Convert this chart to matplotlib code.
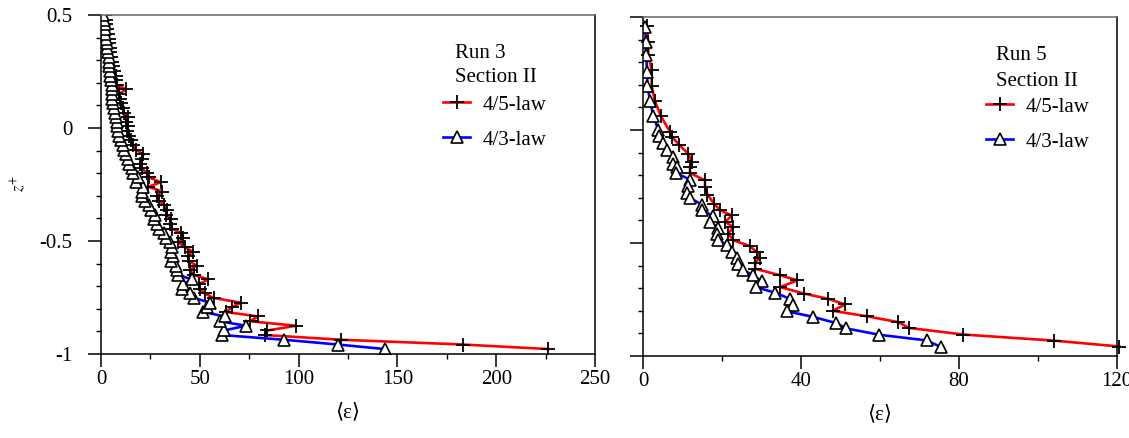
import matplotlib
matplotlib.use("Agg")
import matplotlib.pyplot as plt
from matplotlib.lines import Line2D
from matplotlib.ticker import MultipleLocator

# Run 3, Section II (left panel)
run3_z = [-0.978, -0.958, -0.937, -0.916, -0.896, -0.875, -0.855, -0.834, -0.814, -0.793,
          -0.773, -0.752, -0.732, -0.711, -0.691, -0.670, -0.650, -0.629, -0.609, -0.588,
          -0.568, -0.547, -0.527, -0.506, -0.486, -0.465, -0.445, -0.424, -0.404, -0.383,
          -0.363, -0.342, -0.322, -0.301, -0.281, -0.260, -0.240, -0.219, -0.199, -0.178,
          -0.158, -0.137, -0.117, -0.096, -0.076, -0.055, -0.035, -0.014, 0.007, 0.027,
          0.048, 0.068, 0.089, 0.109, 0.130, 0.150, 0.171, 0.191, 0.212, 0.232,
          0.253, 0.273, 0.294, 0.314, 0.335, 0.355, 0.376, 0.396, 0.417, 0.437,
          0.458, 0.478, 0.498]
run3_law45 = [226, 183, 121.7, 82.8, 84.2, 98.6, 75.4, 79.5, 63.1, 66.3,
              70.7, 57.0, 52.5, 50.1, 49.6, 54.3, 47.0, 44.8, 48.4, 44.3,
              44.0, 46.4, 42.5, 39.0, 41.5, 40.5, 35.9, 34.7, 35.5, 32.9,
              33.5, 32.0, 29.4, 28.5, 31.0, 24.0, 30.2, 24.5, 23.2, 20.5,
              19.7, 20.5, 21.5, 17.5, 16.2, 15.0, 14.4, 13.0, 13.6, 12.5,
              13.6, 11.5, 10.9, 10.0, 9.5, 9.1, 12.7, 8.0, 7.8, 7.4,
              6.8, 6.0, 5.6, 5.2, 4.8, 4.6, 4.2, 3.9, 3.5, 3.0,
              2.6, 2.3, 2.1]
run3_law43 = [143.5, 119.7, 92.7, 61.0, 62.2, 73.3, 60.1, 62.8, 51.7, 53.6,
              55.4, 46.9, 44.8, 41.1, 41.7, 45.9, 39.0, 38.5, 37.8, 35.3,
              36.4, 35.5, 35.8, 34.7, 33.0, 32.0, 29.4, 28.5, 26.7, 27.5,
              25.5, 24.1, 22.5, 20.6, 21.0, 21.5, 17.9, 18.5, 16.2, 15.5,
              14.4, 13.5, 12.7, 11.8, 10.9, 10.0, 9.1, 8.8, 8.3, 7.9,
              7.4, 7.0, 6.5, 6.2, 5.8, 5.6, 5.6, 5.5, 5.0, 4.7,
              4.4, 4.0, 3.9, 3.9, 3.6, 3.0, 2.8, 2.4, 2.1, 2.1,
              2.0, 1.6, 1.2]

# Run 5, Section II (right panel)
run5_z45 = [0.46, 0.39, 0.33, 0.265, 0.195, 0.13, 0.062, -0.007, -0.03, -0.066,
            -0.106, -0.14, -0.162, -0.19, -0.223, -0.25, -0.286, -0.326, -0.355, -0.378,
            -0.407, -0.429, -0.459, -0.488, -0.513, -0.54, -0.566, -0.587, -0.614, -0.643,
            -0.665, -0.695, -0.724, -0.747, -0.772, -0.80, -0.824, -0.85, -0.876, -0.905,
            -0.932, -0.958]
run5_law45 = [0.9, 1.35, 1.35, 2.2, 2.2, 3.0, 4.5, 6.8, 7.3, 9.2,
              11.5, 12.3, 11.9, 11.9, 15.7, 15.7, 16.3, 18.0, 19.5, 22.5,
              20.8, 22.9, 21.6, 22.9, 27.0, 28.8, 29.5, 28.4, 28.4, 34.7,
              39.1, 34.7, 40.8, 46.9, 51.2, 48.0, 56.6, 64.6, 67.4, 81.1,
              104.1, 120.6]
run5_z43 = [0.457, 0.39, 0.33, 0.258, 0.195, 0.13, 0.062, 0.0, -0.027, -0.056,
            -0.09, -0.12, -0.149, -0.165, -0.19, -0.22, -0.248, -0.278, -0.301, -0.33,
            -0.355, -0.38, -0.407, -0.434, -0.459, -0.485, -0.51, -0.54, -0.566, -0.592,
            -0.618, -0.643, -0.67, -0.695, -0.72, -0.747, -0.773, -0.802, -0.827, -0.854,
            -0.878, -0.906, -0.931, -0.96]
run5_law43 = [0.5, 0.76, 0.76, 1.1, 1.1, 1.8, 2.6, 3.9, 4.1, 5.1,
              6.0, 7.7, 7.5, 8.5, 8.4, 11.9, 11.5, 11.1, 11.9, 14.9,
              14.9, 17.8, 17.0, 19.1, 18.7, 19.1, 21.2, 22.5, 23.9, 24.1,
              25.2, 27.9, 30.0, 28.6, 33.4, 37.2, 37.9, 36.4, 43.1, 48.8,
              51.5, 59.8, 71.8, 75.4]

labels = ["4/5-law", "4/3-law"]

plt.rcParams['font.family'] = ['Liberation Serif', 'DejaVu Serif', 'DejaVu Sans']
plt.rcParams['mathtext.fontset'] = 'stix'

W, H = 1129, 438
FS = 15
fig = plt.figure(figsize=(W / 100, H / 100), dpi=100)


def px_axes(x0, y0, x1, y1):
    # axes placed by pixel corners (top-left origin)
    return fig.add_axes([x0 / W, 1 - y1 / H, (x1 - x0) / W, (y1 - y0) / H])


red_style = dict(color='red', lw=1.9, marker='+', ms=10, mec='k', mew=1.3)
blue_style = dict(color='blue', lw=1.9, marker='^', ms=8, mec='k', mfc='white', mew=1.2)


def setup_panel(ax, xmax, major, minor, ylabels):
    ax.set_xlim(0, xmax)
    ax.set_ylim(-1, 0.5)
    ax.xaxis.set_major_locator(MultipleLocator(major))
    ax.xaxis.set_minor_locator(MultipleLocator(minor))
    ax.yaxis.set_major_locator(MultipleLocator(0.5))
    ax.yaxis.set_minor_locator(MultipleLocator(0.1))
    ax.tick_params(which='major', direction='out', length=9.5, width=1.1, labelsize=FS)
    ax.tick_params(which='minor', direction='out', length=3.5, width=1.0)
    ax.tick_params(axis='x', which='major', pad=2)
    ax.tick_params(axis='y', which='major', pad=11, labelleft=ylabels)
    ax.yaxis.set_major_formatter(plt.FuncFormatter(lambda v, p: '%g' % v))
    for s in ax.spines.values():
        s.set_linewidth(1.1)
    ax.spines['top'].set_color('#666666')
    ax.set_xlabel('⟨ε⟩', fontsize=FS, labelpad=10)


def add_legend(ax, title, tx, ty, lx, ly):
    fig.text(tx / W, 1 - ty / H, title[0], fontsize=FS, ha='left', va='center')
    fig.text(tx / W, 1 - (ty + 25) / H, title[1], fontsize=FS, ha='left', va='center')
    handles = [Line2D([], [], **red_style), Line2D([], [], **blue_style)]
    ax.legend(handles, labels, loc='upper left', bbox_to_anchor=(lx / W, 1 - ly / H),
              bbox_transform=fig.transFigure, frameon=False, fontsize=FS,
              handlelength=1.3, handletextpad=0.6, labelspacing=0.75,
              borderpad=0, borderaxespad=0, numpoints=1)


ax1 = px_axes(101, 15, 595, 354)
ax1.plot(run3_law45, run3_z, **red_style)
ax1.plot(run3_law43, run3_z, **blue_style)
setup_panel(ax1, 250, 50, 25, True)
add_legend(ax1, ["Run 3", "Section II"], 455, 53, 443, 95)

ax2 = px_axes(643, 17, 1117, 356)
ax2.plot(run5_law45, run5_z45, clip_on=False, **red_style)
ax2.plot(run5_law43, run5_z43, **blue_style)
setup_panel(ax2, 120, 40, 20, False)
add_legend(ax2, ["Run 5", "Section II"], 996, 56, 986, 97)

fig.text(18 / W, 1 - 183 / H, r'$z^{+}$', rotation=90, ha='center', va='center', fontsize=12)

fig.savefig('out.png', dpi=100)
